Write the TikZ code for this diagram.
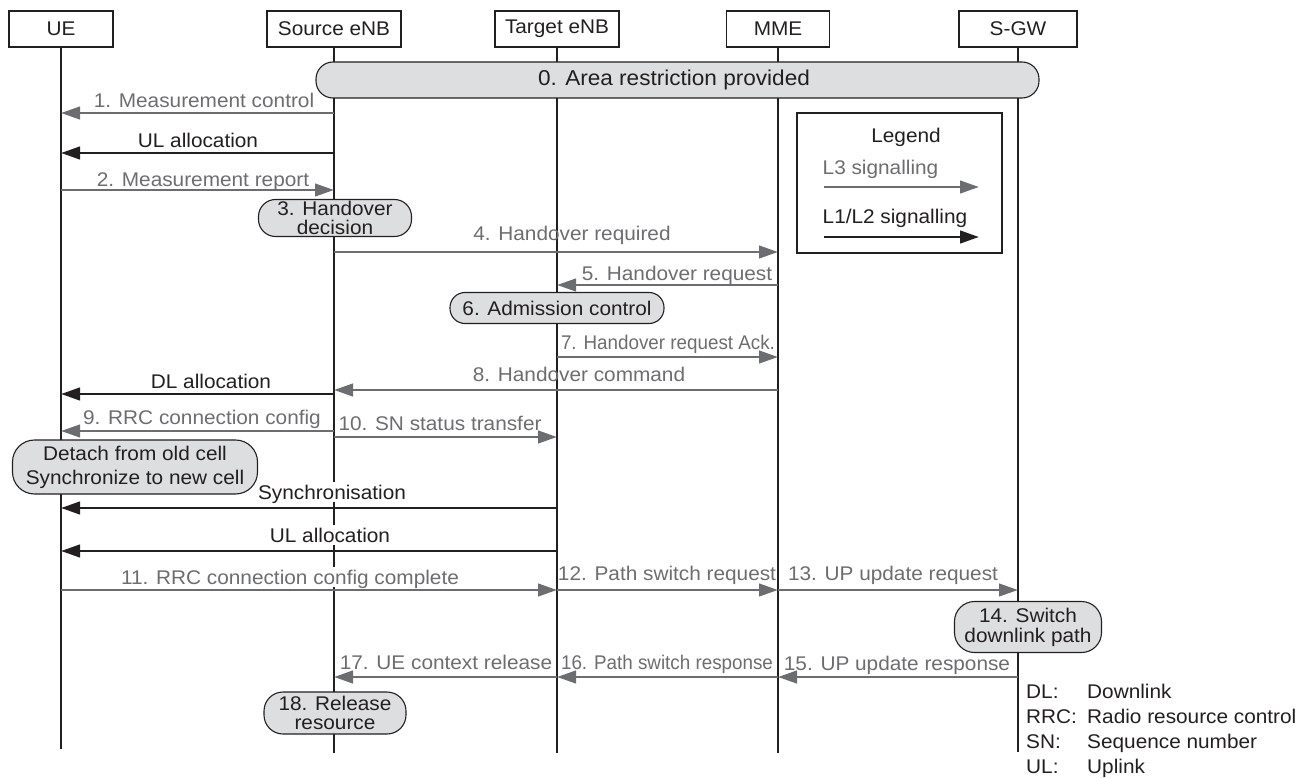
\documentclass[tikz,border=0pt]{standalone}
\usepackage{fontspec}
\setmainfont{Liberation Sans}[FakeStretch=1.05]
\newfontfamily\narrowfont{Liberation Sans}[FakeStretch=0.95]
\usetikzlibrary{arrows.meta}
\definecolor{siggray}{RGB}{108,109,112}
\definecolor{inkblack}{RGB}{35,31,32}
\definecolor{procfill}{RGB}{221,222,224}
\tikzset{
  txt/.style={font=\fontsize{19.8}{19}\selectfont},
  hdr/.style={draw=inkblack, line width=1.1pt, minimum height=36pt, inner sep=0pt, text=inkblack, txt},
  life/.style={draw=inkblack, line width=1.1pt},
  lifeue/.style={draw=inkblack, line width=2.6pt},
  l3/.style={draw=siggray, line width=2.7pt, -{Triangle[length=19pt,width=12.5pt]}},
  l12/.style={draw=inkblack, line width=2.8pt, -{Triangle[length=19pt,width=12.5pt]}},
  lbl/.style={txt, inner xsep=0.5pt, inner ysep=3pt, text height=14.2pt, text depth=0pt},
  lbl3/.style={lbl, text=siggray},
  lbl12/.style={lbl, text=inkblack},
  masked/.style={fill=white},
  narrowlbl/.style={font=\narrowfont\fontsize{19.8}{20}\selectfont},
  proc/.style={draw=inkblack, line width=1.1pt, fill=procfill, rounded corners=16pt,
               align=center, inner sep=0pt, txt, text=inkblack},
  abbr/.style={txt, text=inkblack, anchor=west, inner sep=0pt, text height=14.2pt, text depth=0pt},
}
\begin{document}
\begin{tikzpicture}[x=1pt, y=-1pt]
\path[use as bounding box] (0,0) rectangle (1314,778);

% entity headers
\node[hdr, minimum width=104pt] (ue)  at (61,29)   {UE};
\node[hdr, minimum width=134pt] (src) at (334,29)  {Source eNB};
\node[hdr, minimum width=124pt] (tgt) at (557,29)  {Target eNB};
\node[hdr, minimum width=103pt] (mme) at (778,29)  {MME};
\node[hdr, minimum width=118pt] (sgw) at (1018,29) {S-GW};

% lifelines
\coordinate (ueEnd)  at (ue  |- 0,749);
\coordinate (srcEnd) at (src |- 0,753);
\coordinate (tgtEnd) at (tgt |- 0,753);
\coordinate (mmeEnd) at (mme |- 0,753);
\coordinate (sgwEnd) at (sgw |- 0,752);
\draw[lifeue] (ue.south) -- (ueEnd);
\draw[life] (src.south) -- (srcEnd);
\draw[life] (tgt.south) -- (tgtEnd);
\draw[life] (mme.south) -- (mmeEnd);
\draw[life] (sgw.south) -- (sgwEnd);

% shared step across the network
\node[proc, minimum width=723pt, minimum height=36pt, rounded corners=17pt] (area) at (677.5,80) {};
\node[txt, text=inkblack, font=\fontsize{21.5}{22}\selectfont] (areatext) at (674,80) {0. Area restriction provided};

% legend
\node[draw=inkblack, line width=1.1pt, fill=white, minimum width=205pt, minimum height=140pt, inner sep=0pt]
  (legend) at (899.5,183) {};
\node[lbl12] (legtitle) at (906,135) {Legend};
\node[lbl3, anchor=west] (legl3) at (822,167) {L3 signalling};
\node[lbl12, anchor=west] (legl12) at (822,216) {L1/L2 signalling};
\coordinate (l3a) at (824,187);
\coordinate (l3b) at (979,187);
\coordinate (l12a) at (824,237);
\coordinate (l12b) at (979,237);
\draw[l3] (l3a) -- (l3b);
\draw[l12] (l12a) -- (l12b);

% local procedures
\node[proc, minimum width=153pt, minimum height=37pt, rounded corners=17pt] (p3) at (335,218) {3. Handover\\decision};
\node[proc, minimum width=214pt, minimum height=31pt, rounded corners=15pt] (p6) at (557,308) {6. Admission control};
\node[proc, minimum width=245pt, minimum height=54pt, rounded corners=22pt, font=\fontsize{19.8}{24}\selectfont]
  (detach) at (135,467) {Detach from old cell\\Synchronize to new cell};
\node[proc, minimum width=147pt, minimum height=51pt, rounded corners=20pt, font=\fontsize{19.8}{20}\selectfont]
  (p14) at (1028,627) {14. Switch\\downlink path};
\node[proc, minimum width=142pt, minimum height=42pt, rounded corners=19pt]
  (p18) at (335,713) {18. Release\\resource};

% messages
\node[lbl3] (m1) at (204,100) {1. Measurement control};
\draw[l3] (src |- 0,113) -- (ue |- 0,113);

\node[lbl12] (ul1) at (198,140) {UL allocation};
\draw[l12] (src |- 0,153) -- (ue |- 0,153);

\node[lbl3] (m2) at (203,179) {2. Measurement report};
\draw[l3] (ue |- 0,190) -- (src |- 0,190);

\node[lbl3] (m4) at (572,233) {4. Handover required};
\draw[l3] (src |- 0,252) -- (mme |- 0,252);

\node[lbl3] (m5) at (677,273) {5. Handover request};
\draw[l3] (mme |- 0,285) -- (tgt |- 0,285);

\node[lbl3, narrowlbl] (m7) at (668,342) {7. Handover request Ack.};
\draw[l3] (tgt |- 0,357) -- (mme |- 0,357);

\node[lbl3] (m8) at (579,374) {8. Handover command};
\draw[l3] (mme |- 0,390) -- (src |- 0,390);

\node[lbl12] (dl) at (211,381) {DL allocation};
\draw[l12] (src |- 0,394) -- (ue |- 0,394);

\node[lbl3] (m9) at (202,417) {9. RRC connection config};
\draw[l3] (src |- 0,431) -- (ue |- 0,431);

\node[lbl3] (m10) at (440,423) {10. SN status transfer};
\draw[l3] (src |- 0,437) -- (tgt |- 0,437);

\node[lbl12, masked] (sync) at (332,492) {Synchronisation};
\draw[l12] (tgt |- 0,508) -- (ue |- 0,508);

\node[lbl12, masked] (ul2) at (330,535) {UL allocation};
\draw[l12] (tgt |- 0,551) -- (ue |- 0,551);

\node[lbl3, masked] (m11) at (290,577) {11. RRC connection config complete};
\draw[l3] (ue |- 0,590) -- (tgt |- 0,590);

\node[lbl3] (m12) at (667,573) {12. Path switch request};
\draw[l3] (tgt |- 0,590) -- (mme |- 0,590);

\node[lbl3] (m13) at (893,573) {13. UP update request};
\draw[l3] (mme |- 0,590) -- (sgw |- 0,590);

\node[lbl3] (m15) at (897,663) {15. UP update response};
\draw[l3] (sgw |- 0,677) -- (mme |- 0,677);

\node[lbl3, narrowlbl] (m16) at (667,662) {16. Path switch response};
\draw[l3] (mme |- 0,677) -- (tgt |- 0,677);

\node[lbl3] (m17) at (446,662) {17. UE context release};
\draw[l3] (tgt |- 0,677) -- (src |- 0,677);

% abbreviations
\node[abbr] (aDL)  at (1026,691) {DL:};
\node[abbr] (tDL)  at (1087,691) {Downlink};
\node[abbr] (aRRC) at (1026,716) {RRC:};
\node[abbr] (tRRC) at (1087,716) {Radio resource control};
\node[abbr] (aSN)  at (1026,741) {SN:};
\node[abbr] (tSN)  at (1087,741) {Sequence number};
\node[abbr] (aUL)  at (1026,766) {UL:};
\node[abbr] (tUL)  at (1087,766) {Uplink};
\end{tikzpicture}
\end{document}
